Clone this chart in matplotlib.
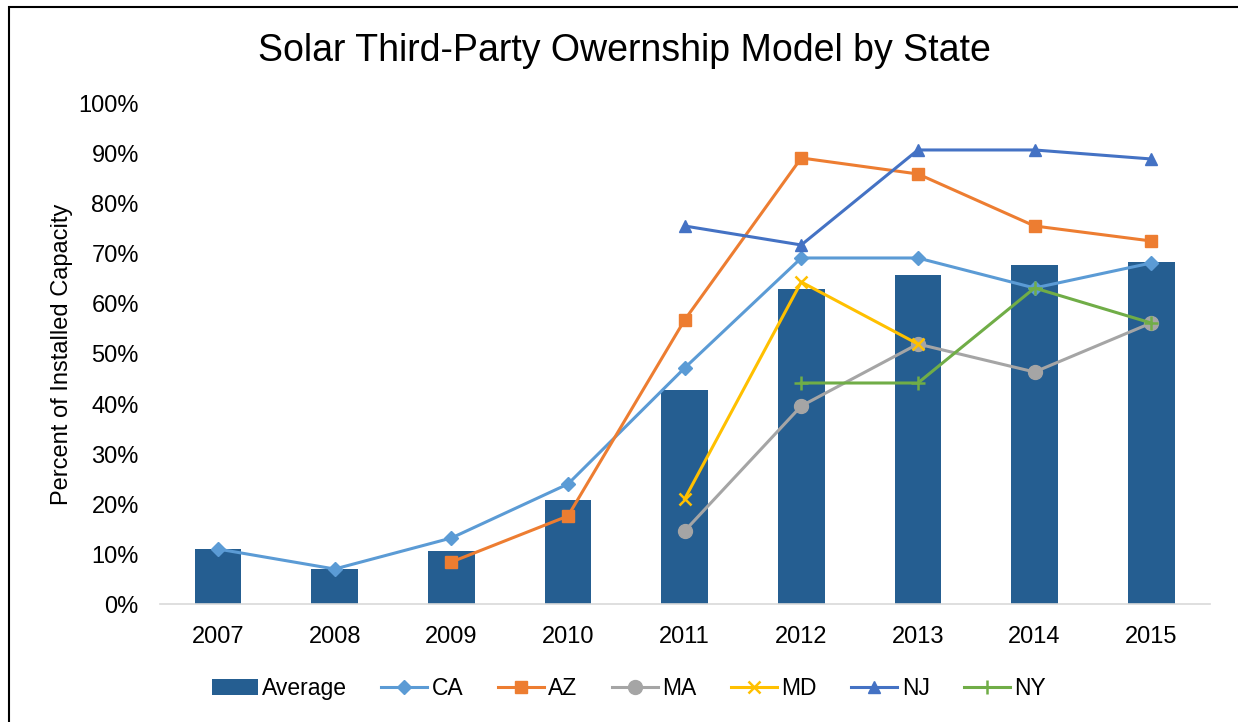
import numpy as np
import matplotlib
matplotlib.use("Agg")
import matplotlib.pyplot as plt
from matplotlib.patches import Rectangle

plt.rcParams['font.family'] = ['Liberation Sans', 'DejaVu Sans']

years = ['2007', '2008', '2009', '2010', '2011', '2012', '2013', '2014', '2015']
average = [11.0, 7.0, 10.6, 20.8, 42.8, 63.0, 65.8, 67.8, 68.4]
nan = np.nan
ca = [11.0, 7.0, 13.2, 24.0, 47.2, 69.2, 69.2, 63.2, 68.2]
az = [nan, nan, 8.4, 17.6, 56.8, 89.2, 86.0, 75.6, 72.6]
ma = [nan, nan, nan, nan, 14.6, 39.6, 52.0, 46.4, 56.2]
md = [nan, nan, nan, nan, 21.0, 64.4, 52.0, nan, nan]
nj = [nan, nan, nan, nan, 75.6, 71.8, 90.8, 90.8, 89.0]
ny = [nan, nan, nan, nan, nan, 44.2, 44.2, 63.2, 56.2]

fig = plt.figure(figsize=(12.38, 7.22), dpi=100)
ax = fig.add_axes([0.129, 0.1634, 0.848, 0.6926])

x = np.arange(len(years))
bars = ax.bar(x, average, width=0.4, color='#255E91', label='Average', zorder=2)

series = [
    ('CA', ca, '#5B9BD5', 'D', 7),
    ('AZ', az, '#ED7D31', 's', 9),
    ('MA', ma, '#A5A5A5', 'o', 10),
    ('MD', md, '#FFC000', 'x', 9),
    ('NJ', nj, '#4472C4', '^', 9),
    ('NY', ny, '#70AD47', '+', 10),
]
handles = [bars]
for name, vals, col, mk, ms in series:
    v = np.array(vals, dtype=float)
    ln, = ax.plot(x, v, color=col, marker=mk, markersize=ms, linewidth=2.2,
                  markeredgewidth=1.8 if mk in ('x', '+') else 1.0,
                  label=name, zorder=3)
    handles.append(ln)

ax.set_xlim(-0.5, len(years) - 0.5)
ax.set_ylim(0, 100)
ax.set_xticks(x)
ax.set_xticklabels(years, fontsize=17)
ax.set_yticks(np.arange(0, 101, 10))
ax.set_yticklabels(['{}%'.format(v) for v in range(0, 101, 10)], fontsize=17)
ax.tick_params(axis='x', length=0, pad=16)
ax.tick_params(axis='y', length=0, pad=15)
for s in ['top', 'right', 'left']:
    ax.spines[s].set_visible(False)
ax.spines['bottom'].set_color('#D9D9D9')
ax.spines['bottom'].set_linewidth(1.2)
ax.set_ylabel('Percent of Installed Capacity', fontsize=17, labelpad=4)

fig.text(0.504, 0.93, 'Solar Third-Party Owernship Model by State',
         ha='center', va='center', fontsize=27)

fig.legend(handles=handles, labels=[h.get_label() for h in handles],
           loc='center', bbox_to_anchor=(0.508, 0.047), ncol=7, frameon=False,
           fontsize=16.5, handlelength=2.0, columnspacing=1.5, handletextpad=0.2)

fig.patches.append(Rectangle((9 / 1238, -0.01), 1.02, 1 - 7 / 722 + 0.01,
                             transform=fig.transFigure, fill=False,
                             edgecolor='black', linewidth=1.5))

fig.savefig('out.png', dpi=100)
